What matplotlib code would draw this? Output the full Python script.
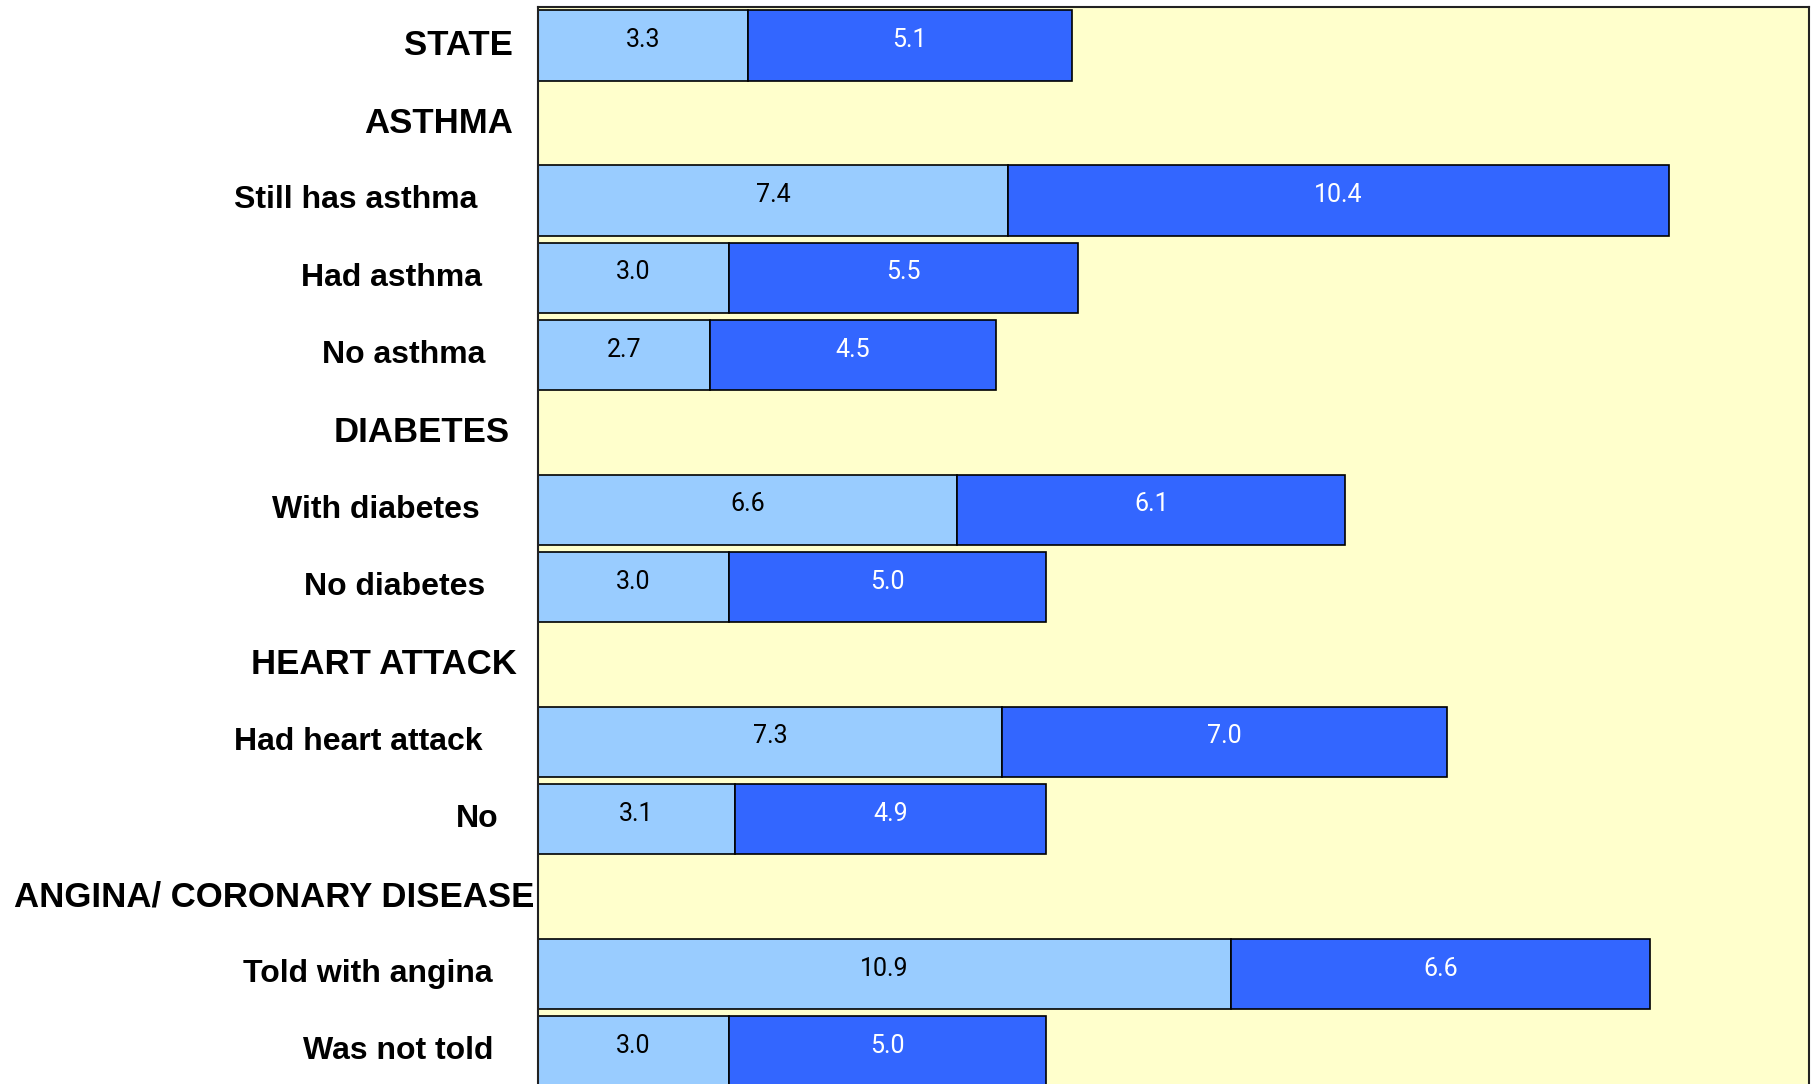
import matplotlib.pyplot as plt
import numpy as np

# rows, top to bottom; None marks a section heading with no bars
labels = ["STATE", "ASTHMA", "Still has asthma", "Had asthma", "No asthma",
          "DIABETES", "With diabetes", "No diabetes",
          "HEART ATTACK", "Had heart attack", "No",
          "ANGINA/ CORONARY DISEASE", "Told with angina", "Was not told"]
is_heading = [True, True, False, False, False,
              True, False, False,
              True, False, False,
              True, False, False]
first_part = [3.3, None, 7.4, 3.0, 2.7, None, 6.6, 3.0, None, 7.3, 3.1, None, 10.9, 3.0]
second_part = [5.1, None, 10.4, 5.5, 4.5, None, 6.1, 5.0, None, 7.0, 4.9, None, 6.6, 5.0]

# right end of each row label, pixels left of the plot area
label_gap = [25, 25, 61, 56, 53, 28, 58, 53, 21, 56, 40, 4, 45, 45]

light = "#99CCFF"
dark = "#3366FF"

fig = plt.figure(figsize=(18.11, 10.84), dpi=100)
ax = fig.add_axes([538 / 1811, -6 / 1084, 1271 / 1811, 1083 / 1084])
ax.set_facecolor("#FFFFCC")

y = np.arange(len(labels))
a = np.array([np.nan if v is None else v for v in first_part])
b = np.array([np.nan if v is None else v for v in second_part])
has = ~np.isnan(a)

ax.barh(y[has], a[has], height=0.91, color=light, edgecolor="black", linewidth=1.2)
ax.barh(y[has], b[has], left=a[has], height=0.91, color=dark, edgecolor="black", linewidth=1.2)

num_font = dict(family=["Roboto", "DejaVu Sans"], fontsize=18)
for yi, va_, vb_ in zip(y[has], a[has], b[has]):
    ax.text(va_ / 2, yi - 0.07, f"{va_:.1f}", ha="center", va="center", color="black", **num_font)
    ax.text(va_ + vb_ / 2, yi - 0.07, f"{vb_:.1f}", ha="center", va="center", color="white", **num_font)

for yi, lab, head, gap in zip(y, labels, is_heading, label_gap):
    ax.annotate(lab, xy=(0, yi), xycoords=("axes fraction", "data"),
                xytext=(-gap, 0), textcoords="offset pixels",
                ha="right", va="center", fontweight="bold",
                fontsize=25 if head else 23, family="Liberation Sans",
                annotation_clip=False)

ax.set_xlim(0, 20)
ax.set_ylim(len(labels) - 0.5, -0.5)
ax.set_xticks([])
ax.set_yticks([])
for s in ax.spines.values():
    s.set_color("#222222")
    s.set_linewidth(1.5)

fig.savefig("out.png", dpi=100)
